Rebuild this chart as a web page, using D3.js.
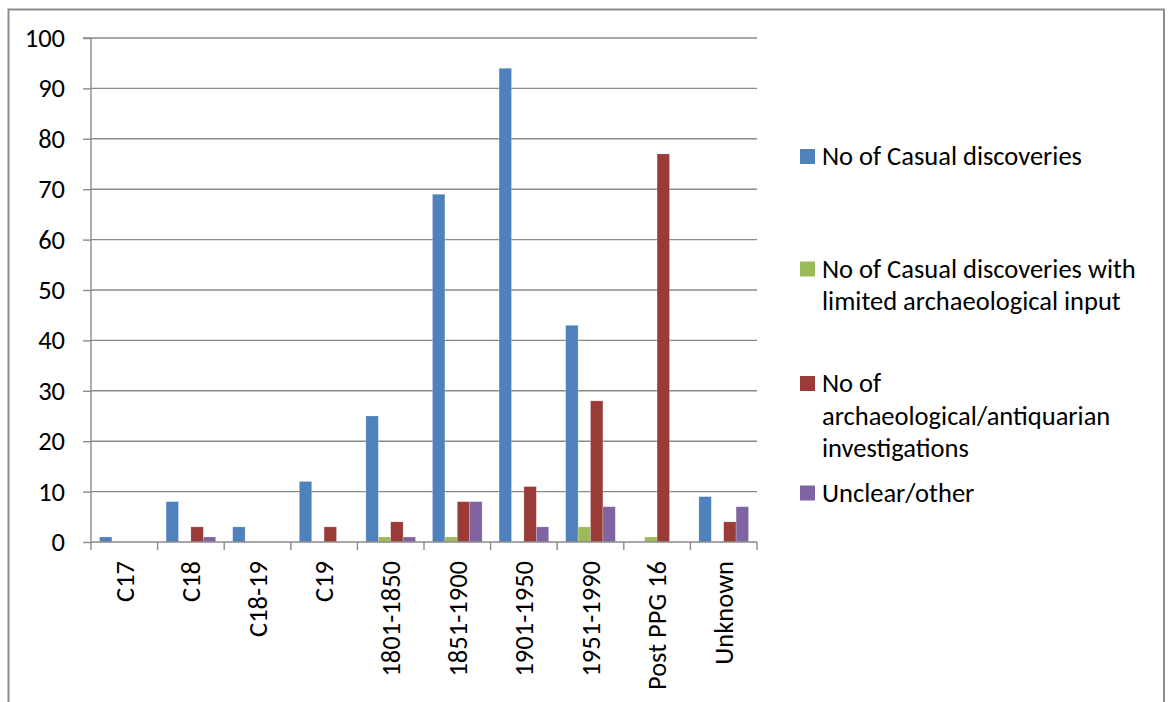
<!DOCTYPE html>
<html>
<head>
<meta charset="utf-8">
<script src="https://cdn.jsdelivr.net/npm/d3@7"></script>
<style>
  html, body { margin: 0; padding: 0; background: #fff; overflow: hidden; }
  svg { display: block; }
  text { font-family: Carlito, Calibri, Lato, sans-serif; fill: #000; }
</style>
</head>
<body>
<script>
const categories = ["C17", "C18", "C18-19", "C19", "1801-1850", "1851-1900", "1901-1950", "1951-1990", "Post PPG 16", "Unknown"];
const seriesNames = ["No of Casual discoveries", "No of Casual discoveries with limited archaeological input", "No of archaeological/antiquarian investigations", "Unclear/other"];
const casual = [1, 8, 3, 12, 25, 69, 94, 43, 0, 9];
const casualLimited = [0, 0, 0, 0, 1, 1, 0, 3, 1, 0];
const investigations = [0, 3, 0, 3, 4, 8, 11, 28, 77, 4];
const unclear = [0, 1, 0, 0, 1, 8, 3, 7, 0, 7];
const yTicks = [0, 10, 20, 30, 40, 50, 60, 70, 80, 90, 100];
const legendLines = [
  ["No of Casual discoveries"],
  ["No of Casual discoveries with", "limited archaeological input"],
  ["No of", "archaeological/antiquarian", "investigations"],
  ["Unclear/other"]
];
const colors = ["#4F81BD", "#9BBB59", "#9A3B38", "#8064A2"];

const seriesValues = [casual, casualLimited, investigations, unclear];

(function () {
const W = 1168, H = 702;
const svg = d3.select("body").append("svg").attr("width", W).attr("height", H);

// outer chart frame
svg.append("rect").attr("x", 8.5).attr("y", 9.5).attr("width", 1155.5).attr("height", 720)
  .attr("fill", "none").attr("stroke", "#8c8c8c").attr("stroke-width", 2);

const pLeft = 91, pRight = 757, pTop = 38, pBottom = 542;
const fs = 26.5;

const y = d3.scaleLinear().domain([0, 100]).range([pBottom, pTop]);
const x0 = d3.scaleBand().domain(categories).range([pLeft, pRight]).paddingInner(0.255).paddingOuter(0.1275);
const x1 = d3.scaleBand().domain(d3.range(4)).range([0, x0.bandwidth()]).padding(0);
const xStep = d3.scaleBand().domain(categories).range([pLeft, pRight]).padding(0);

// gridlines
svg.append("g").selectAll("line").data(yTicks.filter(d => d > 0)).join("line")
  .attr("x1", pLeft).attr("x2", pRight)
  .attr("y1", d => y(d)).attr("y2", d => y(d))
  .attr("stroke", "#8a8a8a").attr("stroke-width", 1.4);

// bars
const rows = categories.map((c, i) => ({ c, vals: seriesValues.map(s => s[i]) }));
const groups = svg.append("g").selectAll("g").data(rows).join("g")
  .attr("transform", d => `translate(${x0(d.c)},0)`);
groups.selectAll("rect").data(d => d.vals.map((v, k) => ({ v, k }))).join("rect")
  .attr("x", d => x1(d.k))
  .attr("y", d => y(d.v))
  .attr("width", x1.bandwidth())
  .attr("height", d => y(0) - y(d.v))
  .attr("fill", d => colors[d.k])
  .attr("stroke", "rgba(255,255,255,0.35)")
  .attr("stroke-width", 0.6);

// y axis
const yAxis = d3.axisLeft(y).tickValues(yTicks).tickSize(8).tickPadding(18);
const gy = svg.append("g").attr("transform", `translate(${pLeft},0)`).call(yAxis);
gy.select(".domain").attr("stroke", "#8a8a8a").attr("stroke-width", 1.4).attr("d", `M-8,${pTop}H0V${pBottom}`);
gy.selectAll(".tick line").attr("stroke", "#8a8a8a").attr("stroke-width", 1.4);
gy.selectAll(".tick text").attr("font-size", fs).attr("font-family", "Carlito, Calibri, Lato, sans-serif").attr("fill", "#000");

// x axis
const xAxis = d3.axisBottom(xStep).tickSize(0).tickFormat(d => d);
const gx = svg.append("g").attr("transform", `translate(0,${pBottom})`).call(xAxis);
gx.select(".domain").attr("stroke", "#8a8a8a").attr("stroke-width", 1.4).attr("d", `M${pLeft},0H${pRight}`);
gx.selectAll(".tick text")
  .attr("font-size", fs).attr("font-family", "Carlito, Calibri, Lato, sans-serif").attr("fill", "#000")
  .attr("transform", "rotate(-90)")
  .attr("text-anchor", "end")
  .attr("x", -19).attr("y", 0).attr("dy", "0.35em");
// category boundary ticks
svg.append("g").selectAll("line").data(categories.map(c => xStep(c)).concat([pRight])).join("line")
  .attr("x1", d => d).attr("x2", d => d)
  .attr("y1", pBottom).attr("y2", pBottom + 8)
  .attr("stroke", "#8a8a8a").attr("stroke-width", 1.4);

// legend
const legendBase = [165, 277.5, 392, 501.5];
const lineH = 32.5;
const lg = svg.append("g");
legendLines.forEach((lines, k) => {
  lg.append("rect").attr("x", 800).attr("y", legendBase[k] - 16).attr("width", 15).attr("height", 15)
    .attr("fill", colors[k]);
  const t = lg.append("text").attr("x", 822).attr("y", legendBase[k]).attr("font-size", fs);
  lines.forEach((ln, j) => {
    t.append("tspan").attr("x", 822).attr("y", legendBase[k] + j * lineH).text(ln);
  });
});
})();
</script>
</body>
</html>
